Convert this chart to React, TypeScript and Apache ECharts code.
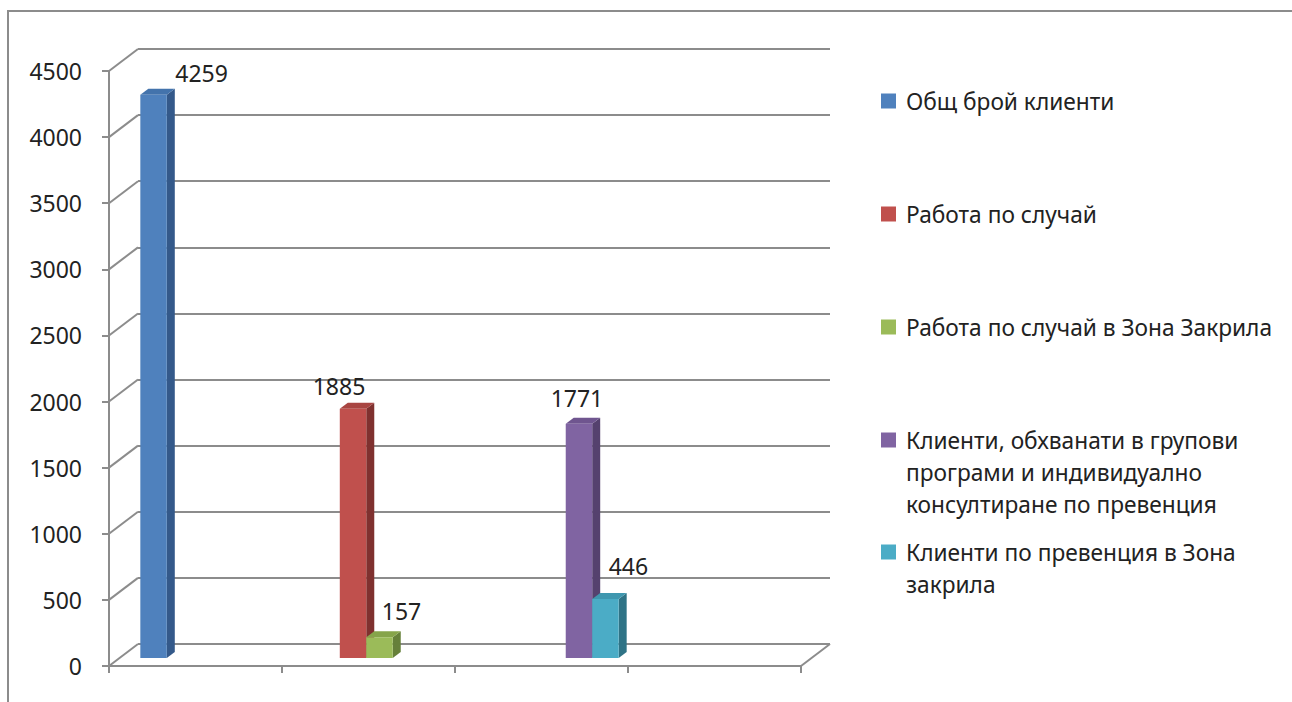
import React, { useEffect, useRef } from 'react';
import * as echarts from 'echarts';

// ---------- data ----------
const CATEGORIES = ['', '', '', ''];
const SERIES_NAMES = [
  'Общ брой клиенти',
  'Работа по случай',
  'Работа по случай в Зона Закрила',
  'Клиенти, обхванати в групови\nпрограми и индивидуално\nконсултиране по превенция',
  'Клиенти по превенция в Зона\nзакрила',
];
const TOTAL_CLIENTS = [4259, null, null, null];
const CASE_WORK = [null, 1885, null, null];
const CASE_WORK_ZONE = [null, 157, null, null];
const GROUP_PROGRAMS = [null, null, 1771, null];
const PREVENTION_ZONE = [null, null, 446, null];
const SERIES_VALUES = [TOTAL_CLIENTS, CASE_WORK, CASE_WORK_ZONE, GROUP_PROGRAMS, PREVENTION_ZONE];
const Y_MIN = 0;
const Y_MAX = 4500;
const Y_STEP = 500;
const Y_TICKS = [0, 500, 1000, 1500, 2000, 2500, 3000, 3500, 4000, 4500];

// ---------- style ----------
const FONT = '"Noto Sans", "DejaVu Sans", sans-serif';
const TEXT_COLOR = '#222222';
const GRID_COLOR = '#8c8c8c';
const FRONT_COLORS = ['#4F81BD', '#C0504D', '#9BBB59', '#8064A2', '#4BACC6'];
const TOP_COLORS = ['#4373AC', '#A84542', '#86A44A', '#6F558F', '#3F97AF'];
const SIDE_COLORS = ['#34598A', '#7F312F', '#66803A', '#55416E', '#2F7386'];
const WALL_DX = 29;
const WALL_DY = -22;
const PLANE_DX = 11;
const PLANE_DY = -8;
const BAR_DX = 8;
const BAR_DY = -6;
const SLOT_FRAC = 0.153;
const LABEL_OFFSETS = [
  [48, -22],
  [-14, -23],
  [22, -26],
  [-2, -26],
  [23, -33],
];
const LEGEND_TOPS = [85, 198, 311, 360, 504];

export default function App() {
  const ref = useRef<HTMLDivElement>(null);

  useEffect(() => {
    if (!ref.current) return;
    const chart = echarts.init(ref.current, undefined, { renderer: 'svg' });

    const barSeries = SERIES_VALUES.map((arr, si) => ({
      type: 'custom',
      name: SERIES_NAMES[si],
      xAxisIndex: 0,
      yAxisIndex: 0,
      itemStyle: { color: FRONT_COLORS[si] },
      encode: { x: 0, y: 1 },
      z: 5,
      silent: true,
      data: arr
        .map((v, i) => (v == null ? null : [i, v]))
        .filter((d) => d !== null),
      renderItem: (params: any, api: any) => {
        const cat = api.value(0);
        const v = api.value(1);
        if (v == null || isNaN(v)) return null;
        const band = api.size([1, 0])[0];
        const slot = band * SLOT_FRAC;
        const top = api.coord([cat, v]);
        const base = api.coord([cat, 0]);
        const cx = top[0] + (si - 2) * slot + PLANE_DX;
        const x0 = cx - slot / 2;
        const x1 = cx + slot / 2;
        const yT = top[1] + PLANE_DY;
        const yB = base[1] + PLANE_DY;
        const [lx, ly] = LABEL_OFFSETS[si];
        return {
          type: 'group',
          children: [
            {
              type: 'polygon',
              shape: { points: [[x1, yT], [x1 + BAR_DX, yT + BAR_DY], [x1 + BAR_DX, yB + BAR_DY], [x1, yB]] },
              style: { fill: SIDE_COLORS[si] },
            },
            {
              type: 'polygon',
              shape: { points: [[x0, yT], [x0 + BAR_DX, yT + BAR_DY], [x1 + BAR_DX, yT + BAR_DY], [x1, yT]] },
              style: { fill: TOP_COLORS[si] },
            },
            {
              type: 'rect',
              shape: { x: x0, y: yT, width: x1 - x0, height: yB - yT },
              style: { fill: FRONT_COLORS[si] },
            },
            {
              type: 'text',
              style: {
                text: String(v),
                x: cx + lx,
                y: yT + ly,
                fill: TEXT_COLOR,
                fontSize: 23,
                fontFamily: FONT,
                align: 'center',
                verticalAlign: 'middle',
              },
            },
          ],
        };
      },
    }));

    const wallSeries = {
      type: 'custom',
      xAxisIndex: 0,
      yAxisIndex: 0,
      silent: true,
      z: 1,
      data: Y_TICKS.map((v) => [0, v]),
      renderItem: (params: any, api: any) => {
        const v = api.value(1);
        const band = api.size([1, 0])[0];
        const p = api.coord([0, v]);
        const left = p[0] - band / 2;
        const children: any[] = [
          {
            type: 'line',
            shape: { x1: left, y1: p[1], x2: left + WALL_DX, y2: p[1] + WALL_DY },
            style: { stroke: GRID_COLOR, lineWidth: 2 },
          },
        ];
        if (v === Y_MIN) {
          const r = api.coord([CATEGORIES.length - 1, v]);
          const right = r[0] + band / 2;
          children.push({
            type: 'line',
            shape: { x1: right, y1: r[1], x2: right + WALL_DX, y2: r[1] + WALL_DY },
            style: { stroke: GRID_COLOR, lineWidth: 2 },
          });
        }
        return { type: 'group', children };
      },
    };

    const legends = SERIES_NAMES.map((name, i) => {
      const lines = name.split('\n').length;
      return {
        data: [name],
        orient: 'vertical',
        left: 881,
        top: LEGEND_TOPS[i],
        padding: 0,
        itemGap: 0,
        itemWidth: 15,
        itemHeight: 15,
        icon: 'rect',
        selectedMode: false,
        formatter: (n: string) => '\n'.repeat(lines - 1) + n,
        textStyle: {
          fontSize: 22.7,
          lineHeight: 32,
          fontFamily: FONT,
          color: TEXT_COLOR,
          padding: [0, 0, 0, 5],
        },
      };
    });

    chart.setOption({
      animation: false,
      textStyle: { fontFamily: FONT },
      graphic: [
        {
          type: 'rect',
          silent: true,
          z: -10,
          shape: { x: 8, y: 11, width: 1300, height: 700 },
          style: { fill: 'none', stroke: GRID_COLOR, lineWidth: 2 },
        },
      ],
      legend: legends,
      grid: [
        { left: 109, top: 71, width: 692, height: 595 },
        { left: 109 + WALL_DX, top: 71 + WALL_DY, width: 692, height: 595 },
      ],
      xAxis: [
        {
          type: 'category',
          gridIndex: 0,
          data: CATEGORIES,
          boundaryGap: true,
          axisLine: { show: true, lineStyle: { color: GRID_COLOR, width: 2 } },
          axisTick: { show: true, length: 7, lineStyle: { color: GRID_COLOR, width: 2 } },
          axisLabel: { show: false },
          splitLine: { show: false },
        },
        {
          type: 'value',
          gridIndex: 1,
          min: 0,
          max: 1,
          show: false,
        },
      ],
      yAxis: [
        {
          type: 'value',
          gridIndex: 0,
          min: Y_MIN,
          max: Y_MAX,
          interval: Y_STEP,
          axisLine: { show: true, lineStyle: { color: GRID_COLOR, width: 2 } },
          axisTick: { show: true, length: 7, lineStyle: { color: GRID_COLOR, width: 2 } },
          axisLabel: {
            fontSize: 23,
            margin: 27,
            color: TEXT_COLOR,
            fontFamily: FONT,
            formatter: (v: number) => String(v),
          },
          splitLine: { show: false },
        },
        {
          type: 'value',
          gridIndex: 1,
          min: Y_MIN,
          max: Y_MAX,
          interval: Y_STEP,
          axisLine: { show: false },
          axisTick: { show: false },
          axisLabel: { show: false },
          splitLine: { show: true, lineStyle: { color: GRID_COLOR, width: 2 } },
        },
      ],
      series: [wallSeries, ...barSeries],
    });

    return () => chart.dispose();
  }, []);

  return (
    <div
      ref={ref}
      style={{ position: 'fixed', left: 0, top: 0, width: 1292, height: 702, background: '#ffffff' }}
    />
  );
}
